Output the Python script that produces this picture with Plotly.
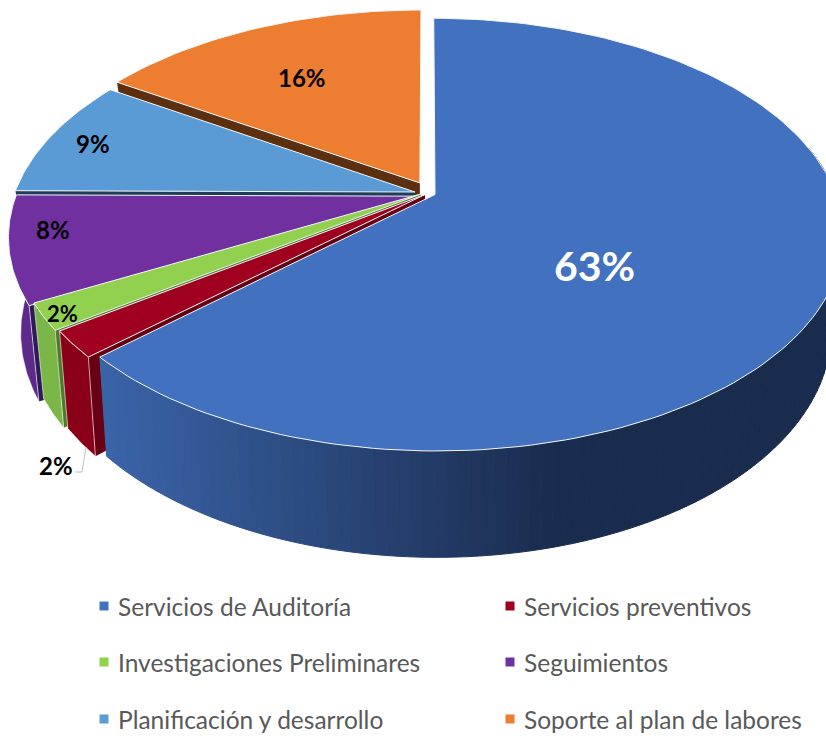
import math
import plotly.graph_objects as go

categories = ["Servicios de Auditoría", "Servicios preventivos", "Investigaciones Preliminares",
              "Seguimientos", "Planificación y desarrollo", "Soporte al plan de labores"]
values = [63.1, 2, 2, 8, 9, 15.9]
labels = ["63%", "2%", "2%", "8%", "9%", "16%"]
explode_x = [0.02, -0.005, -0.015, -0.024, -0.03, -0.018]
explode_y = [-0.012, -0.012, -0.0095, -0.02, 0.0, 0.044]
top_colors = ["#4271BF", "#A00020", "#92D050", "#7030A0", "#5B9BD5", "#ED7D31"]
wall_colors = ["#375F9F", "#8A0018", "#7AB648", "#5D2A8C", "#335A80", "#C96A28"]
radial_colors = ["#2A4A80", "#680014", "#4F7A28", "#2E1A55", "#1F3D58", "#5C2F10"]

# projection of the pie plane on to the page
CX, CY = 427, 192
A, B, K = 208, 400, 0.185
A2, B2, K2, DEPTH = 217, 387, 0.2, 90


def top(X, Y):
    d = 1 + K * Y
    return CX + B * X / d, CY - A * Y / d


def bottom(X, Y):
    d = 1 + K2 * Y
    return CX + B2 * X / d, CY + DEPTH - A2 * Y / d


def mix(c1, c2, t):
    t = max(0, min(1, t))
    a = [int(c1[i:i + 2], 16) for i in (1, 3, 5)]
    b = [int(c2[i:i + 2], 16) for i in (1, 3, 5)]
    return "#%02x%02x%02x" % tuple(round(p + (q - p) * t) for p, q in zip(a, b))


fig = go.Figure()


def poly(pts, fill, line="rgba(0,0,0,0)", w=0):
    fig.add_trace(go.Scatter(
        x=[p[0] for p in pts] + [pts[0][0]], y=[p[1] for p in pts] + [pts[0][1]],
        mode="lines", fill="toself", fillcolor=fill,
        line=dict(color=line, width=w), hoverinfo="skip", showlegend=False))


total = sum(values)
spans = []
acc = 0
for v in values:
    spans.append((acc / total * 2 * math.pi, (acc + v) / total * 2 * math.pi))
    acc += v

for i in [5, 4, 3, 2, 1, 0]:
    s, e = spans[i]
    ex, ey = explode_x[i], explode_y[i]
    n = 160 if i == 0 else 40
    ths = [s + (e - s) * j / n for j in range(n + 1)]
    rim = [(ex + math.sin(t), ey + math.cos(t)) for t in ths]
    # radial face on the clockwise-start edge
    if i > 0:
        poly([top(ex, ey), top(*rim[0]), bottom(*rim[0]), bottom(ex, ey)], radial_colors[i])
    # outer wall, front-facing part only
    front = [j for j, t in enumerate(ths) if math.pi * 0.42 <= t <= math.pi * 1.5]
    if front:
        if i == 0:
            for j in front[:-1]:
                x0 = top(*rim[j])[0]
                col = mix("#3A64A8", "#1A2C4E", (x0 - 105) / 455)
                poly([top(*rim[j]), top(*rim[j + 1]), bottom(*rim[j + 1]), bottom(*rim[j])], col, col, 1)
        else:
            pts = [top(*rim[j]) for j in front] + [bottom(*rim[j]) for j in reversed(front)]
            poly(pts, wall_colors[i], "#FFFFFF", 0.6)
    poly([top(ex, ey)] + [top(*p) for p in rim], top_colors[i], "#F4F6FA", 1)

# leader line of the small slice
fig.add_shape(type="path", path="M 75 472 L 82 472 L 86 447", line=dict(color="#BFBFBF", width=1))

# value labels
label_px = [(594, 265), (56, 465), (62, 313), (53, 229), (93, 143), (302, 77)]
label_size = [41, 24, 22, 24, 24, 24]
label_col = ["#FFFFFF", "#000000", "#000000", "#000000", "#000000", "#000000"]
for t, (x, y), sz, c in zip(labels, label_px, label_size, label_col):
    fig.add_annotation(x=x, y=y, text="<b>%s</b>" % t, showarrow=False,
                       font=dict(family="Lato", size=sz, color=c))

# legend
legend_px = [(104, 606), (510, 606), (104, 662), (510, 662), (104, 719), (510, 719)]
for name, col, (x, y) in zip(categories, top_colors, legend_px):
    fig.add_trace(go.Scatter(x=[x], y=[y], mode="markers",
                             marker=dict(symbol="square", size=9, color=col),
                             hoverinfo="skip", showlegend=False))
    fig.add_annotation(x=x + 12, y=y, text=name, showarrow=False, xanchor="left",
                       font=dict(family="Lato", size=24.5, color="#595959"))

fig.update_layout(width=826, height=736, autosize=False, margin=dict(l=0, r=0, t=0, b=0),
                  paper_bgcolor="white", plot_bgcolor="white",
                  xaxis=dict(range=[0, 826], visible=False),
                  yaxis=dict(range=[736, 0], visible=False))
fig.write_html("out.html", config={"displayModeBar": False},
               post_script="document.body.style.margin='0';")
